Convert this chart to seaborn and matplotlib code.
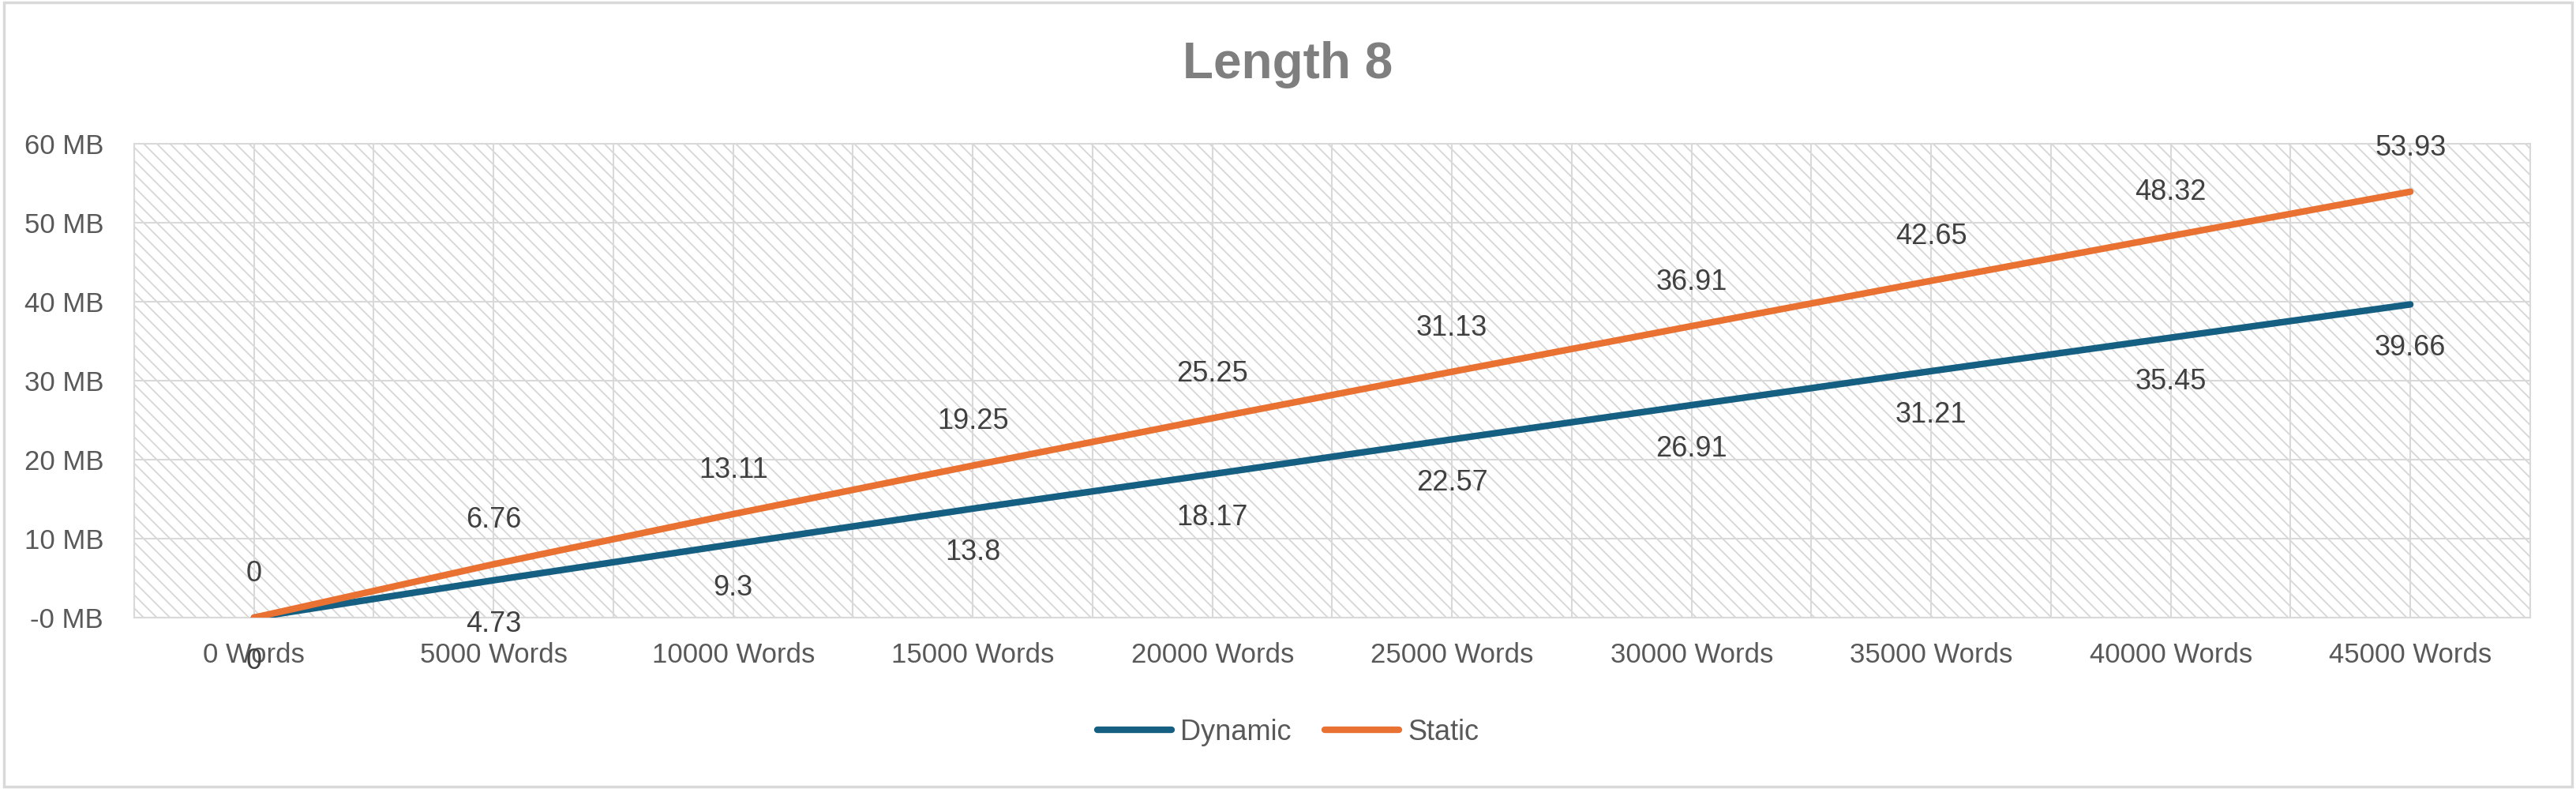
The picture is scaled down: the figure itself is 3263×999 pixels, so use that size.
import numpy as np
import pandas as pd
import matplotlib
matplotlib.use("Agg")
import matplotlib.pyplot as plt
from matplotlib.patches import Rectangle
import seaborn as sns

# chart data
categories = ["0 Words", "5000 Words", "10000 Words", "15000 Words", "20000 Words",
              "25000 Words", "30000 Words", "35000 Words", "40000 Words", "45000 Words"]
dynamic_mb = [0, 4.73, 9.3, 13.8, 18.17, 22.57, 26.91, 31.21, 35.45, 39.66]
static_mb = [0, 6.76, 13.11, 19.25, 25.25, 31.13, 36.91, 42.65, 48.32, 53.93]
series_names = ["Dynamic", "Static"]
ytick_values = [0, 10, 20, 30, 40, 50, 60]
ytick_labels = ["-0 MB", "10 MB", "20 MB", "30 MB", "40 MB", "50 MB", "60 MB"]
title = "Length 8"

colors = {"Dynamic": "#156082", "Static": "#E97132"}
grid_col = "#d9d9d9"

sns.set_theme(style="white")
plt.rcParams["font.family"] = ["Liberation Sans", "DejaVu Sans"]
plt.rcParams["hatch.linewidth"] = 1.3

df = pd.DataFrame({
    "words": categories * 2,
    "mb": dynamic_mb + static_mb,
    "series": [series_names[0]] * len(categories) + [series_names[1]] * len(categories),
})

fig = plt.figure(figsize=(32.63, 9.99), dpi=100)
ax = fig.add_axes([0.0521, 0.2172, 0.9301, 0.6006])

# hatched plot area background
ax.add_patch(Rectangle((0, 0), 1, 1, transform=ax.transAxes, fill=False, hatch="\\\\",
                       edgecolor="#d6d6d6", lw=0, zorder=0))

sns.lineplot(data=df, x="words", y="mb", hue="series", palette=colors, ax=ax,
             linewidth=6, sort=False, legend=False, zorder=3,
             solid_capstyle="round")

ax.set_xlim(-0.5, len(categories) - 0.5)
ax.set_ylim(0, 60)
ax.set_xticks(range(len(categories)))
ax.set_xticks(np.arange(-0.5, len(categories), 1.0), minor=True)
ax.set_xticklabels(categories, fontsize=25, color="#595959")
ax.set_yticks(ytick_values)
ax.set_yticklabels(ytick_labels, fontsize=25, color="#595959")
ax.tick_params(axis="both", which="both", length=0)
ax.tick_params(axis="x", pad=22)
ax.tick_params(axis="y", pad=28)
ax.grid(True, which="major", color=grid_col, lw=1.5, zorder=1)
ax.grid(True, which="minor", axis="x", color=grid_col, lw=1.5, zorder=1)
ax.set_axisbelow(True)
ax.set_xlabel("")
ax.set_ylabel("")
for sp in ax.spines.values():
    sp.set_color(grid_col)
    sp.set_linewidth(1.5)

# data labels: static above, dynamic below
for i, v in enumerate(static_mb):
    ax.annotate(f"{v:g}", (i, v), xytext=(0, 40), textcoords="offset points",
                ha="center", va="center", fontsize=26, color="#404040", zorder=4)
for i, v in enumerate(dynamic_mb):
    ax.annotate(f"{v:g}", (i, v), xytext=(0, -40), textcoords="offset points",
                ha="center", va="center", fontsize=26, color="#404040", zorder=4)

handles = [plt.Line2D([], [], color=colors[s], lw=6, solid_capstyle="round") for s in series_names]
fig.legend(handles, series_names, loc="center", bbox_to_anchor=(0.5, 0.072), ncol=2,
           frameon=False, fontsize=26, handlelength=2.6, handletextpad=0.3,
           columnspacing=1.2, labelcolor="#595959")

fig.text(0.5, 0.918, title, ha="center", va="center", fontsize=46,
         fontweight="bold", color="#7f7f7f")

# chart area border
fig.patches.append(Rectangle((0.0015, 0.003), 0.997, 0.994, transform=fig.transFigure,
                             fill=False, edgecolor=grid_col, lw=2.5))

fig.savefig("out.png", dpi=100)
